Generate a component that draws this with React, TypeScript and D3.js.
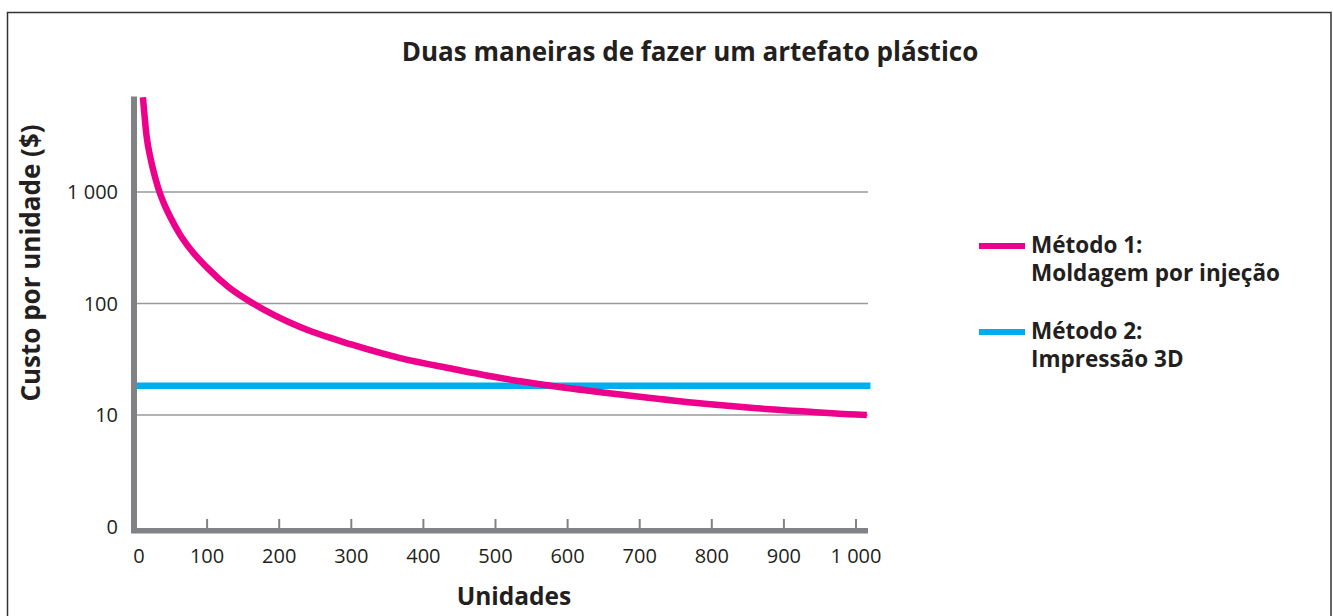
import React, { useEffect, useRef } from "react";
import * as d3 from "d3";

const title = "Duas maneiras de fazer um artefato plástico";
const xLabel = "Unidades";
const yLabel = "Custo por unidade ($)";

const xTicks = [0, 100, 200, 300, 400, 500, 600, 700, 800, 900, 1000];
const xTickLabels = ["0", "100", "200", "300", "400", "500", "600", "700", "800", "900", "1 000"];
const yTicks = [1, 10, 100, 1000];
const yTickLabels = ["0", "10", "100", "1 000"];

// Método 1: moldagem por injeção (custo decai com o volume)
const injUnits = [11, 16, 22, 28, 34, 42, 50, 62, 80, 100, 130, 164, 229, 300, 368, 440, 507, 569, 640, 715, 790, 854, 930, 1000, 1015];
const injCost = [7100, 3200, 1950, 1350, 1000, 740, 580, 420, 290, 210, 140, 100, 61.5, 43, 32.4, 26, 21.5, 18.6, 16.2, 14.2, 12.6, 11.6, 10.75, 10.1, 10];

// Método 2: impressão 3D (custo constante)
const printUnits = [0, 1020];
const printCost = [18.3, 18.3];

const legendItems = [
  { color: "#EC008C", lines: ["Método 1:", "Moldagem por injeção"] },
  { color: "#00AEEF", lines: ["Método 2:", "Impressão 3D"] },
];

const W = 1333;
const H = 616;
const FONT = "'Open Sans', sans-serif";
const TEXT = "#231F20";
const AXIS = "#808285";

const App = () => {
  const ref = useRef<SVGSVGElement | null>(null);

  useEffect(() => {
    const svg = d3.select(ref.current);
    svg.selectAll("*").remove();

    const x = d3.scaleLinear().domain([0, 1000]).range([135, 856]);
    const y = d3.scaleLog().domain([1, 7200]).range([526.5, 96.5]);

    // frame
    svg
      .append("rect")
      .attr("x", 7.5)
      .attr("y", 12.5)
      .attr("width", 1323.5)
      .attr("height", 640)
      .attr("fill", "white")
      .attr("stroke", "#333")
      .attr("stroke-width", 1.5);

    svg
      .append("text")
      .attr("x", 690)
      .attr("y", 61)
      .attr("text-anchor", "middle")
      .style("font-family", FONT)
      .style("font-weight", 700)
      .style("font-size", "26px")
      .style("fill", TEXT)
      .text(title);

    // gridlines
    svg
      .selectAll("line.grid")
      .data(yTicks.filter((d) => d > 1))
      .join("line")
      .attr("class", "grid")
      .attr("x1", 137)
      .attr("x2", 868)
      .attr("y1", (d) => y(d))
      .attr("y2", (d) => y(d))
      .attr("stroke", "#9a9a9a")
      .attr("stroke-width", 1.5);

    const line = d3
      .line<[number, number]>()
      .x((d) => x(d[0]))
      .y((d) => y(d[1]))
      .curve(d3.curveMonotoneX);

    svg
      .append("path")
      .attr("d", line(printUnits.map((u, i) => [u, printCost[i]] as [number, number])))
      .attr("fill", "none")
      .attr("stroke", "#00AEEF")
      .attr("stroke-width", 6.5);

    svg
      .append("path")
      .attr("d", line(injUnits.map((u, i) => [u, injCost[i]] as [number, number])))
      .attr("fill", "none")
      .attr("stroke", "#EC008C")
      .attr("stroke-width", 6.5);

    // axes
    const axisTop = y(7200);
    svg
      .append("rect")
      .attr("x", 131)
      .attr("y", axisTop)
      .attr("width", 6)
      .attr("height", 533 - axisTop)
      .attr("fill", AXIS);
    svg
      .append("rect")
      .attr("x", 131)
      .attr("y", 528)
      .attr("width", 868 - 131)
      .attr("height", 5.5)
      .attr("fill", AXIS);

    svg
      .selectAll("line.xtick")
      .data(xTicks.slice(1))
      .join("line")
      .attr("class", "xtick")
      .attr("x1", (d) => x(d))
      .attr("x2", (d) => x(d))
      .attr("y1", 519)
      .attr("y2", 528)
      .attr("stroke", AXIS)
      .attr("stroke-width", 2);

    svg
      .selectAll("text.xlab")
      .data(xTicks)
      .join("text")
      .attr("class", "xlab")
      .attr("x", (d) => x(d) + (d === 0 ? 4 : 0))
      .attr("y", 563)
      .attr("text-anchor", "middle")
      .style("font-family", FONT)
      .style("font-size", "20px")
      .style("fill", TEXT)
      .text((d, i) => xTickLabels[i]);

    svg
      .selectAll("text.ylab")
      .data(yTicks)
      .join("text")
      .attr("class", "ylab")
      .attr("x", 118)
      .attr("y", (d) => y(d) + 7)
      .attr("text-anchor", "end")
      .style("font-family", FONT)
      .style("font-size", "20px")
      .style("fill", TEXT)
      .text((d, i) => yTickLabels[i]);

    svg
      .append("text")
      .attr("x", 514)
      .attr("y", 605)
      .attr("text-anchor", "middle")
      .style("font-family", FONT)
      .style("font-weight", 700)
      .style("font-size", "24.5px")
      .style("fill", TEXT)
      .text(xLabel);

    svg
      .append("text")
      .attr("transform", "translate(40,263) rotate(-90)")
      .attr("text-anchor", "middle")
      .style("font-family", FONT)
      .style("font-weight", 700)
      .style("font-size", "26px")
      .style("fill", TEXT)
      .text(yLabel);

    // legend
    const lg = svg
      .selectAll("g.legend")
      .data(legendItems)
      .join("g")
      .attr("class", "legend")
      .attr("transform", (d, i) => `translate(979,${246 + i * 86})`);

    lg.append("line")
      .attr("x1", 0)
      .attr("x2", 46)
      .attr("stroke", (d) => d.color)
      .attr("stroke-width", 6);

    lg.selectAll("text")
      .data((d) => d.lines)
      .join("text")
      .attr("x", 52)
      .attr("y", (d, i) => 7 + i * 28)
      .style("font-family", FONT)
      .style("font-weight", 700)
      .style("font-size", "22.5px")
      .style("fill", TEXT)
      .text((d) => d);
  }, []);

  return (
    <svg
      ref={ref}
      width={W}
      height={H}
      style={{ position: "absolute", left: 0, top: 0, background: "white" }}
    />
  );
};

export default App;
